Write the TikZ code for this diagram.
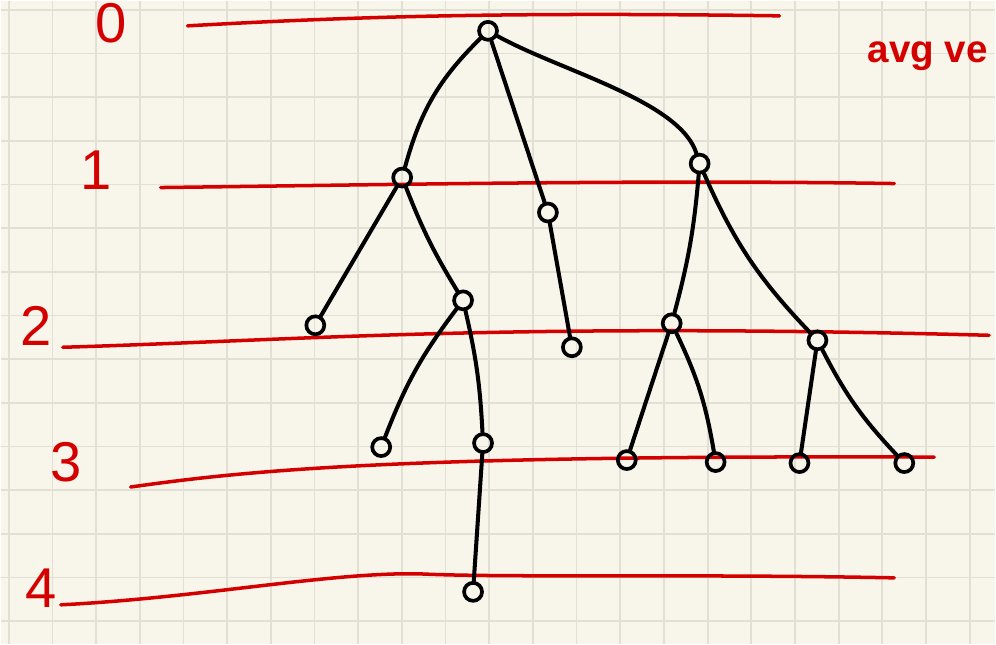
\documentclass[tikz,border=0pt]{standalone}
\usepackage{fontspec}
\setmainfont{Liberation Sans}
\usetikzlibrary{calc}
\definecolor{cPaper}{HTML}{F8F6EA}
\definecolor{cGrid}{HTML}{E2E0D5}
\definecolor{cInk}{HTML}{D40000}

\begin{document}
\begin{tikzpicture}[
   x=0.02cm, y=-0.02cm,
   vtx/.style={draw=black, circle, line width=2.1pt, minimum size=0.36cm,
               inner sep=0pt},
   edge/.style={black, line width=2.3pt, line cap=round},
   lvlline/.style={cInk, line width=2pt, line cap=round},
   lvlnum/.style={text=cInk, font=\fontsize{32}{32}\selectfont}]
  % paper
  \fill[cPaper] (0,0) rectangle (996,644);
  \foreach \i in {0,...,22} \draw[cGrid, line width=1pt] (8+43.75*\i,0) -- ++(0,644);
  \foreach \j in {0,...,14} \draw[cGrid, line width=1pt] (0,9+43.75*\j) -- ++(996,0);
  \useasboundingbox (0,0) rectangle (996,644);
  % levels
  \node[lvlnum] (n0) at (110,22) {0};
  \node[lvlnum] (n1) at (95,170) {1};
  \node[lvlnum] (n2) at (35,326) {2};
  \node[lvlnum] (n3) at (65,462) {3};
  \node[lvlnum] (n4) at (40,588) {4};
  \draw[lvlline] (187,25) .. controls (350,16) and (500,11) .. (780,15);
  \draw[lvlline] (160,187) .. controls (400,184) and (650,179) .. (895,183);
  \draw[lvlline] (62,347) .. controls (300,340) and (500,322) .. (990,335);
  \draw[lvlline] (130,487) .. controls (250,470) and (400,455) .. (935,457);
  \draw[lvlline] (60,605) .. controls (200,598) and (330,572) .. (420,574)
                 .. controls (500,578) and (700,574) .. (895,578);
  \node[text=cInk, font=\fontsize{22}{22}\bfseries\selectfont, anchor=base west]
     (note) at (862,62) {avg ve};
  % tree
  \node[vtx] (r)  at (488,30)  {};
  \node[vtx] (a)  at (402,177) {};
  \node[vtx] (b)  at (548,212) {};
  \node[vtx] (c)  at (700,163) {};
  \node[vtx] (a1) at (315,325) {};
  \node[vtx] (a2) at (463,300) {};
  \node[vtx] (b1) at (572,347) {};
  \node[vtx] (c1) at (672,323) {};
  \node[vtx] (c2) at (818,340) {};
  \node[vtx] (a3) at (381,447) {};
  \node[vtx] (a4) at (483,443) {};
  \node[vtx] (c3) at (627,460) {};
  \node[vtx] (c4) at (716,462) {};
  \node[vtx] (c5) at (800,463) {};
  \node[vtx] (c6) at (905,463) {};
  \node[vtx] (d)  at (473,592) {};
  \draw[edge] (r) to[bend right=15] (a);
  \draw[edge] (r) -- (b);
  \draw[edge] (r) .. controls (560,70) and (680,100) .. (c);
  \draw[edge] (a) -- (a1);
  \draw[edge] (a) to[bend right=5] (a2);
  \draw[edge] (b) -- (b1);
  \draw[edge] (c) to[bend left=5] (c1);
  \draw[edge] (c) to[bend right=10] (c2);
  \draw[edge] (a2) to[bend right=8] (a3);
  \draw[edge] (a2) to[bend left=5] (a4);
  \draw[edge] (c1) -- (c3);
  \draw[edge] (c1) to[bend left=8] (c4);
  \draw[edge] (c2) -- (c5);
  \draw[edge] (c2) to[bend right=8] (c6);
  \draw[edge] (a4) -- (d);
\end{tikzpicture}
\end{document}
